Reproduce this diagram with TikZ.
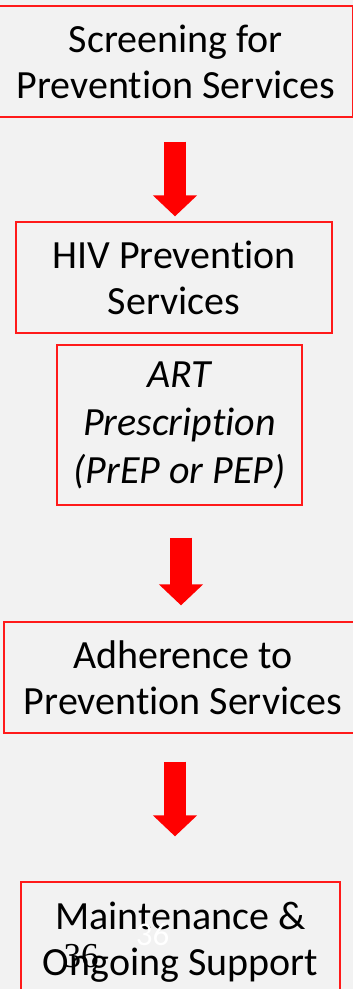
\documentclass[tikz,border=0pt]{standalone}
\usepackage{fontspec}
\setmainfont{Carlito}[RawFeature=-liga]
\newfontfamily\numfont{Liberation Serif}
\usetikzlibrary{arrows.meta}
\definecolor{slidegray}{HTML}{F2F2F2}
\definecolor{boxred}{HTML}{FF1A1A}
\begin{document}
\begin{tikzpicture}[
  x=1pt,
  y=-1pt,
  stepbox/.style={draw=boxred, line width=1.3pt, inner sep=0pt, align=center,
    font=\fontsize{40}{46}\selectfont},
  downarrow/.style={red, line width=22pt, -{Triangle[length=21pt, width=43pt]}}
]
\fill[slidegray] (0,0) rectangle (353,989);
\useasboundingbox (0,0) rectangle (353,989);

% steps
\node[stepbox, minimum width=353.5pt, minimum height=111pt] (screen) at (175.75,61.5)
  {Screening for\\Prevention Services};
\node[stepbox, minimum width=316pt, minimum height=111pt] (hiv) at (174,277.5)
  {HIV Prevention\\Services};
\node[stepbox, minimum width=245pt, minimum height=160pt,
  font=\fontsize{40}{48}\selectfont\itshape] (art) at (179.5,425)
  {ART\\Prescription\\(PrEP or PEP)};
\node[stepbox, minimum width=358pt, minimum height=111pt] (adhere) at (183,677.5)
  {Adherence to\\Prevention Services};
\node[stepbox, minimum width=319pt, minimum height=120pt] (maint) at (180.5,942)
  {Maintenance \&\\Ongoing Support};

% arrows
\draw[downarrow, shorten <=24pt, shorten >=5pt] ([xshift=-0.75pt]screen.south) -- ([xshift=-0.75pt]screen.south |- hiv.north);
\draw[downarrow, shorten <=32pt, shorten >=16pt] ([xshift=1.5pt]art.south) -- ([xshift=1.5pt]art.south |- adhere.north);
\draw[downarrow, shorten <=28pt, shorten >=45pt] ([xshift=-8pt]adhere.south) -- ([xshift=-8pt]adhere.south |- maint.north);

% slide number
\node[white, anchor=base, inner sep=0pt, font=\fontsize{33}{33}\selectfont] (pagenumshadow) at (152.5,945) {36};
\node[black, anchor=base, inner sep=0pt, font=\numfont\fontsize{35}{35}\selectfont] (pagenum) at (81,967) {36};
\end{tikzpicture}
\end{document}
